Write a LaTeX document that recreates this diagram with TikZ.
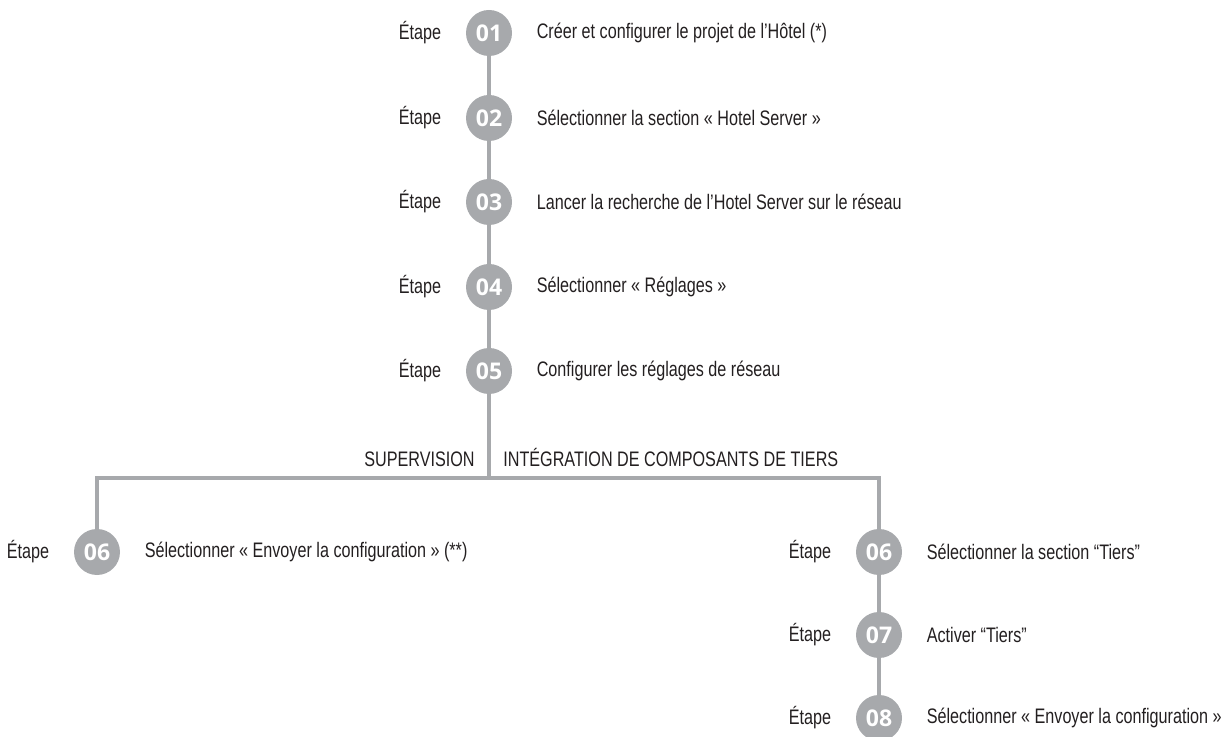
\documentclass[tikz,border=0pt]{standalone}
\usepackage{fontspec}
\setmainfont[FakeStretch=0.77]{Liberation Sans}
\newfontfamily\numfont{Open Sans}
\usetikzlibrary{positioning}
\definecolor{stepgray}{HTML}{A7A9AC}
\definecolor{inkgray}{HTML}{231F20}

\tikzset{
    stepdot/.style={circle, fill=stepgray, text=white, minimum size=23pt, inner sep=0pt,
        font=\numfont\bfseries\fontsize{11.5}{12}\selectfont},
    stepname/.style={inner sep=0pt, text=inkgray, font=\fontsize{10.5}{12}\selectfont},
    steptext/.style={inner sep=0pt, text=inkgray, font=\fontsize{10.5}{12}\selectfont},
    branchname/.style={inner sep=0pt, text=inkgray, font=\fontsize{10.5}{12}\selectfont},
    link/.style={stepgray, line width=1.6pt}
}

\begin{document}
\begin{tikzpicture}[x=0.5pt, y=-0.5pt, node distance=12pt]
        \useasboundingbox (0,0) rectangle (1232,737);

        \node[stepdot] (s1) at (489,33) {01};
        \node[stepdot] (s2) at (489,118) {02};
        \node[stepdot] (s3) at (489,202) {03};
        \node[stepdot] (s4) at (489,287) {04};
        \node[stepdot] (s5) at (489,371) {05};
        \node[stepdot] (a6) at (97,552) {06};
        \node[stepdot] (b6) at (879,552) {06};
        \node[stepdot] (b7) at (879,635) {07};
        \node[stepdot] (b8) at (879,718) {08};

        \node[stepname, left=of s1] (e1) {Étape};
        \node[stepname, left=of s2] (e2) {Étape};
        \node[stepname, left=of s3] (e3) {Étape};
        \node[stepname, left=of s4] (e4) {Étape};
        \node[stepname, left=of s5] (e5) {Étape};
        \node[stepname, left=of a6] (ea6) {Étape};
        \node[stepname, left=of b6] (eb6) {Étape};
        \node[stepname, left=of b7] (eb7) {Étape};
        \node[stepname, left=of b8] (eb8) {Étape};

        \node[steptext, right=of s1] (t1) {Créer et configurer le projet de l’Hôtel (*)};
        \node[steptext, right=of s2] (t2) {Sélectionner la section « Hotel Server »};
        \node[steptext, right=of s3] (t3) {Lancer la recherche de l’Hotel Server sur le réseau};
        \node[steptext, right=of s4] (t4) {Sélectionner « Réglages »};
        \node[steptext, right=of s5] (t5) {Configurer les réglages de réseau};
        \node[steptext, right=of a6] (ta6) {Sélectionner « Envoyer la configuration » (**)};
        \node[steptext, right=of b6] (tb6) {Sélectionner la section “Tiers”};
        \node[steptext, right=of b7] (tb7) {Activer “Tiers”};
        \node[steptext, right=of b8] (tb8) {Sélectionner « Envoyer la configuration »};

        \coordinate (fork) at (489,478);
        \coordinate (lfork) at (97,478);
        \coordinate (rfork) at (879,478);
        \node[branchname, anchor=base east] (sup) at (475,467) {SUPERVISION};
        \node[branchname, anchor=base west] (tier) at (503,467) {INTÉGRATION DE COMPOSANTS DE TIERS};

        \draw[link] (s1) -- (s2);
        \draw[link] (s2) -- (s3);
        \draw[link] (s3) -- (s4);
        \draw[link] (s4) -- (s5);
        \draw[link] (s5) -- (fork);
        \draw[link] (a6) -- (lfork) -- (rfork) -- (b6);
        \draw[link] (b6) -- (b7);
        \draw[link] (b7) -- (b8);
    \end{tikzpicture}
\end{document}
